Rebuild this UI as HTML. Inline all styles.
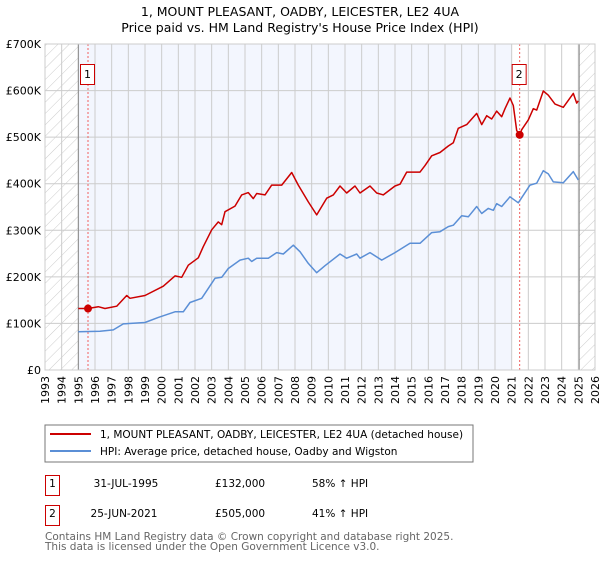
<!DOCTYPE html>
<html><head><meta charset="utf-8"><style>
body{margin:0;background:#fff;}
svg text{font-family:"DejaVu Sans","Liberation Sans",sans-serif;}
</style></head><body>
<svg id="chart" width="600" height="560" xmlns="http://www.w3.org/2000/svg">
<defs>
<pattern id="hatch" patternUnits="userSpaceOnUse" width="8" height="8" patternTransform="rotate(45)">
<line x1="0" y1="0" x2="0" y2="8" stroke="#ccc" stroke-width="1"/>
</pattern>
</defs>
<text x="300" y="16" text-anchor="middle" font-size="12.5">1, MOUNT PLEASANT, OADBY, LEICESTER, LE2 4UA</text>
<text x="300" y="32" text-anchor="middle" font-size="12.5">Price paid vs. HM Land Registry's House Price Index (HPI)</text>
<g id="plot"></g>
<rect x="45" y="425" width="428" height="37" fill="#fff" stroke="#777"/>
<line x1="50" y1="434" x2="91" y2="434" stroke="#cc0000" stroke-width="2"/>
<text x="100" y="438" font-size="10.5">1, MOUNT PLEASANT, OADBY, LEICESTER, LE2 4UA (detached house)</text>
<line x1="50" y1="451" x2="91" y2="451" stroke="#5b8fd6" stroke-width="2"/>
<text x="100" y="455" font-size="10.5">HPI: Average price, detached house, Oadby and Wigston</text>
<g>
<rect x="45.5" y="475.5" width="14" height="20" fill="none" stroke="#cc0000"/>
<text x="52.5" y="487" text-anchor="middle" font-size="10.5">1</text>
<text x="126" y="487" text-anchor="middle" font-size="10.5">31-JUL-1995</text>
<text x="215" y="487" font-size="10.5">£132,000</text>
<text x="312" y="487" font-size="10.5">58% ↑ HPI</text>
<rect x="45.5" y="505.5" width="14" height="20" fill="none" stroke="#cc0000"/>
<text x="52.5" y="517" text-anchor="middle" font-size="10.5">2</text>
<text x="124" y="517" text-anchor="middle" font-size="10.5">25-JUN-2021</text>
<text x="215" y="517" font-size="10.5">£505,000</text>
<text x="312" y="517" font-size="10.5">41% ↑ HPI</text>
</g>
<text x="45" y="540" font-size="10.5" fill="#666">Contains HM Land Registry data © Crown copyright and database right 2025.</text>
<text x="45" y="550" font-size="10.5" fill="#666">This data is licensed under the Open Government Licence v3.0.</text>
</svg>
<script>
const yTicks = [0,100,200,300,400,500,600,700];
const yTickLabels = ["£0","£100K","£200K","£300K","£400K","£500K","£600K","£700K"];
const xYears = [1993,1994,1995,1996,1997,1998,1999,2000,2001,2002,2003,2004,2005,2006,2007,2008,2009,2010,2011,2012,2013,2014,2015,2016,2017,2018,2019,2020,2021,2022,2023,2024,2025,2026];
const redT = [1995.0,1995.58,1996.2,1996.6,1997.3,1997.9,1998.1,1999.0,2000.1,2000.8,2001.2,2001.6,2002.2,2002.5,2003.0,2003.4,2003.6,2003.8,2004.4,2004.8,2005.2,2005.5,2005.7,2006.2,2006.6,2007.2,2007.8,2008.2,2008.8,2009.3,2009.9,2010.3,2010.7,2011.1,2011.6,2011.9,2012.5,2012.9,2013.3,2014.0,2014.3,2014.7,2015.5,2015.8,2016.2,2016.7,2017.2,2017.5,2017.8,2018.3,2018.9,2019.2,2019.5,2019.8,2020.1,2020.4,2020.6,2020.9,2021.1,2021.3,2021.48,2021.6,2022.0,2022.3,2022.5,2022.9,2023.2,2023.6,2024.1,2024.7,2024.9,2025.0];
const redV = [132,132,136,132,137,160,154,160,180,202,199,225,241,265,301,318,312,340,352,376,381,368,379,376,397,397,424,397,361,333,369,376,395,380,395,380,395,380,376,395,399,425,425,439,460,467,481,488,519,527,551,527,546,539,556,544,561,584,568,514,505,516,537,561,558,599,590,571,564,594,573,578];
const blueT = [1995.0,1996.3,1997.1,1997.7,1999.0,1999.8,2000.8,2001.3,2001.7,2002.4,2002.7,2003.2,2003.6,2004.0,2004.7,2005.2,2005.4,2005.7,2006.4,2006.9,2007.3,2007.9,2008.3,2008.8,2009.3,2009.8,2010.7,2011.1,2011.7,2011.9,2012.5,2013.2,2014.0,2014.9,2015.5,2016.2,2016.7,2017.2,2017.5,2018.0,2018.4,2018.9,2019.2,2019.6,2019.9,2020.1,2020.4,2020.9,2021.4,2022.1,2022.5,2022.9,2023.2,2023.5,2024.1,2024.7,2025.0];
const blueV = [82,83,86,99,102,113,125,125,145,154,170,197,199,218,236,240,233,240,240,252,249,268,254,229,209,224,249,240,249,240,252,236,252,272,272,295,297,308,311,331,329,351,336,347,343,357,351,372,359,397,401,428,421,404,402,426,408];
const saleT = [1995.58,2021.48];
const saleV = [132,505];
const saleLabels = ["1","2"];

const L=45,R=595,T=44,B=370;
const xs = y => L + (y-1993)*(R-L)/33;
const ys = v => B - v*(B-T)/700;
const NS="http://www.w3.org/2000/svg";
const g=document.getElementById('plot');
function mk(tag,attrs){const e=document.createElementNS(NS,tag);for(const k in attrs)e.setAttribute(k,attrs[k]);g.appendChild(e);return e;}

let e;
e=mk('rect',{x:xs(1995),y:T,width:xs(2021.0)-xs(1995),height:B-T,fill:'#f3f6fe'});


e=mk('rect',{x:L,y:T,width:xs(1995)-L,height:B-T,fill:'url(#hatch)'});


e=mk('rect',{x:xs(2025.05),y:T,width:R-xs(2025.05),height:B-T,fill:'url(#hatch)'});


yTicks.forEach((v,i)=>{
  e=mk('line',{x1:L,x2:R,y1:ys(v),y2:ys(v),stroke:'#ccc','stroke-width':1});
  
  
  e=mk('text',{x:L-4,y:ys(v)+4,'text-anchor':'end','font-size':11});
  e.textContent=yTickLabels[i];
  
  
});
xYears.forEach(yr=>{
  e=mk('line',{x1:xs(yr),x2:xs(yr),y1:T,y2:B,stroke:'#ccc','stroke-width':1});
  
  
  e=mk('text',{x:0,y:0,'text-anchor':'end','font-size':11,transform:`translate(${xs(yr)+4},${B+6}) rotate(-90)`});
  e.textContent=yr;
  
  
});
[1995,2025.05].forEach(yr=>{
  e=mk('line',{x1:xs(yr),x2:xs(yr),y1:T,y2:B,stroke:'#888','stroke-width':1});
  
  
});
saleT.forEach((t,i)=>{
  e=mk('line',{x1:xs(t),x2:xs(t),y1:T,y2:B,stroke:'#f06060','stroke-width':1,'stroke-dasharray':'2,2'});
  
  
});
function path(t,v){return t.map((x,i)=>(i?'L':'M')+xs(x).toFixed(1)+','+ys(v[i]).toFixed(1)).join('');}
e=mk('path',{d:path(blueT,blueV),fill:'none',stroke:'#5b8fd6','stroke-width':1.5,'stroke-linejoin':'round'});


e=mk('path',{d:path(redT,redV),fill:'none',stroke:'#cc0000','stroke-width':1.5,'stroke-linejoin':'round'});


saleT.forEach((t,i)=>{
  e=mk('circle',{cx:xs(t),cy:ys(saleV[i]),r:4,fill:'#cc0000'});
  
  
  e=mk('rect',{x:xs(t)-7.5,y:64.5,width:14,height:20,fill:'#fff',stroke:'#cc0000'});
  
  
  e=mk('text',{x:xs(t)-0.5,y:78,'text-anchor':'middle','font-size':11});
  e.textContent=saleLabels[i];
  
  
});
e=mk('rect',{x:L,y:T,width:R-L,height:B-T,fill:'none',stroke:'#ccc'});


</script>
</body></html>
